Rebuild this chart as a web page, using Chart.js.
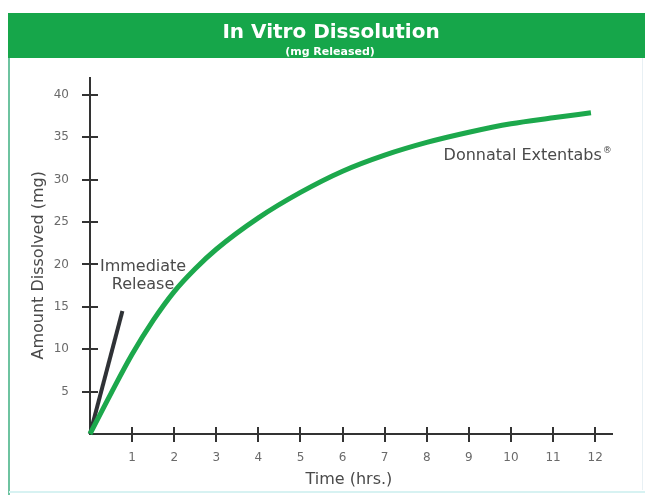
<!DOCTYPE html>
<html>
<head>
<meta charset="utf-8">
<script src="https://cdn.jsdelivr.net/npm/chart.js@4/dist/chart.umd.min.js"></script>
<style>
  html, body { margin: 0; padding: 0; background: #fff; }
  canvas { display: block; }
</style>
</head>
<body>
<canvas id="dissolutionChart" width="645" height="495"></canvas>
<script>
  // values
  const extentabsHours = [0, 0.5, 1, 1.5, 2, 2.5, 3, 4, 5, 6, 7, 8, 9, 10, 11, 11.9];
  const extentabsMg = [0, 4.8, 9.4, 13.4, 16.8, 19.5, 21.8, 25.5, 28.5, 31.0, 32.9, 34.4, 35.6, 36.6, 37.3, 37.9];
  const immediateHours = [0, 0.77];
  const immediateMg = [0, 14.5];
  const xTicks = [1, 2, 3, 4, 5, 6, 7, 8, 9, 10, 11, 12];
  const yTicks = [5, 10, 15, 20, 25, 30, 35, 40];

  const FONT = `"DejaVu Sans", "Liberation Sans", sans-serif`;
  const GREEN = `rgb(22,166,74)`;
  const INK = `#333`;

  const toPoints = (xs, ys) => xs.map((x, i) => ({ x: x, y: ys[i] }));

  // header bar, frame, crossing tick marks and the text labels
  const decor = {
    id: `decor`,
    beforeDraw(chart) {
      const { ctx, width, height } = chart;
      ctx.save();
      ctx.fillStyle = `#fff`;
      ctx.fillRect(0, 0, width, height);
      ctx.fillStyle = GREEN;
      ctx.fillRect(8, 13, width - 8, 45);
      ctx.fillStyle = `#fff`;
      ctx.textAlign = `center`;
      ctx.textBaseline = `alphabetic`;
      ctx.font = `bold 20px ${FONT}`;
      ctx.fillText(`In Vitro Dissolution`, 331, 38);
      ctx.font = `bold 11px ${FONT}`;
      ctx.fillText(`(mg Released)`, 330, 55);
      // thin frame round the plot panel
      ctx.strokeStyle = `rgb(110,195,160)`;
      ctx.lineWidth = 2;
      ctx.beginPath();
      ctx.moveTo(9, 58);
      ctx.lineTo(9, height);
      ctx.stroke();
      ctx.strokeStyle = `rgb(215,242,242)`;
      ctx.beginPath();
      ctx.moveTo(9, 492);
      ctx.lineTo(width, 492);
      ctx.stroke();
      ctx.strokeStyle = `rgb(232,240,244)`;
      ctx.lineWidth = 1;
      ctx.beginPath();
      ctx.moveTo(642.5, 58);
      ctx.lineTo(642.5, 490);
      ctx.stroke();
      ctx.restore();
    },
    afterDraw(chart) {
      const { ctx } = chart;
      const xs = chart.scales.x, ys = chart.scales.y;
      const x0 = xs.getPixelForValue(0), y0 = ys.getPixelForValue(0);
      ctx.save();
      ctx.strokeStyle = INK;
      ctx.lineWidth = 2;
      ctx.beginPath();
      xTicks.forEach((t) => {
        const px = Math.round(xs.getPixelForValue(t));
        ctx.moveTo(px, y0 - 7);
        ctx.lineTo(px, y0 + 8);
      });
      yTicks.forEach((t) => {
        const py = Math.round(ys.getPixelForValue(t));
        ctx.moveTo(x0 - 8, py);
        ctx.lineTo(x0 + 8, py);
      });
      ctx.stroke();

      ctx.fillStyle = `#4a4a4a`;
      ctx.font = `16px ${FONT}`;
      ctx.textAlign = `center`;
      ctx.textBaseline = `alphabetic`;
      ctx.fillText(`Time (hrs.)`, xs.getPixelForValue(6.15), 484);
      ctx.fillText(`Immediate`, xs.getPixelForValue(1.26), ys.getPixelForValue(19.2));
      ctx.fillText(`Release`, xs.getPixelForValue(1.26), ys.getPixelForValue(17.1));
      ctx.textAlign = `left`;
      const label = `Donnatal Extentabs`;
      const lx = xs.getPixelForValue(8.4), ly = ys.getPixelForValue(32.3);
      ctx.fillText(label, lx, ly);
      const lw = ctx.measureText(label).width;
      ctx.font = `9px ${FONT}`;
      ctx.fillText(`®`, lx + lw + 1, ly - 7);

      ctx.font = `16px ${FONT}`;
      ctx.translate(43, ys.getPixelForValue(19.9));
      ctx.rotate(-Math.PI / 2);
      ctx.textAlign = `center`;
      ctx.fillText(`Amount Dissolved (mg)`, 0, 0);
      ctx.restore();
    },
  };

  const cfg = {
    type: `scatter`,
    data: {
      datasets: [
        {
          label: `Donnatal Extentabs`,
          data: toPoints(extentabsHours, extentabsMg),
          showLine: true,
          borderColor: `rgb(28,168,76)`,
          borderWidth: 5,
          pointRadius: 0,
          cubicInterpolationMode: `monotone`,
          clip: 6,
        },
        {
          label: `Immediate Release`,
          data: toPoints(immediateHours, immediateMg),
          showLine: true,
          borderColor: `#2f3236`,
          borderWidth: 4,
          pointRadius: 0,
          clip: 6,
        },
      ],
    },
    options: {
      responsive: false,
      animation: false,
      layout: { padding: { top: 78, right: 33, left: 0, bottom: 0 } },
      plugins: {
        legend: { display: false },
        tooltip: { enabled: false },
        title: { display: false },
      },
      scales: {
        x: {
          type: `linear`,
          min: 0,
          max: 12.4,
          afterFit(scale) {
            scale.height = 61;
          },
          grid: { display: false, drawTicks: false },
          border: { display: true, color: INK, width: 2 },
          ticks: {
            stepSize: 1,
            includeBounds: false,
            padding: 17,
            color: `#6a6a6a`,
            font: { family: FONT, size: 12 },
            callback: (v) => (xTicks.includes(v) ? `${v}` : ``),
          },
        },
        y: {
          type: `linear`,
          min: 0,
          max: 42,
          afterFit(scale) {
            scale.width = 90;
          },
          grid: { display: false, drawTicks: false },
          border: { display: true, color: INK, width: 2 },
          ticks: {
            stepSize: 5,
            includeBounds: false,
            padding: 21,
            color: `#6a6a6a`,
            font: { family: FONT, size: 12 },
            callback: (v) => (yTicks.includes(v) ? `${v}` : ``),
          },
        },
      },
    },
    plugins: [decor],
  };

  const chart = new Chart(document.getElementById(`dissolutionChart`), cfg);
</script>
</body>
</html>
